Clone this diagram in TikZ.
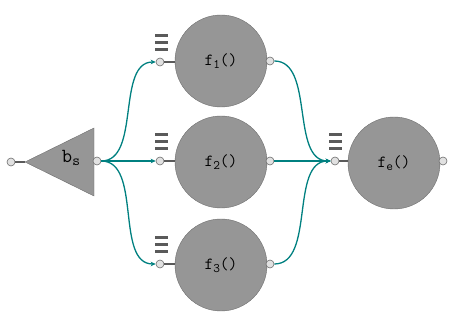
\documentclass[tikz,border=0pt]{standalone}
\usetikzlibrary{arrows.meta}
\definecolor{fillg}{RGB}{150,150,150}
\definecolor{edgeg}{RGB}{110,110,110}
\definecolor{portg}{RGB}{225,225,225}
\definecolor{teal2}{RGB}{0,128,128}
\definecolor{barg}{RGB}{90,90,90}
\tikzset{
  x=1pt, y=-1pt,
  lbl/.style={font=\ttfamily\fontsize{17}{19}\selectfont},
  func/.style={circle, draw=edgeg, fill=fillg, minimum size=92pt, inner sep=0pt, lbl},
  port/.style={circle, draw=edgeg, fill=portg, minimum size=8pt, inner sep=0pt, line width=0.6pt},
  stub/.style={draw=barg, line width=1.1pt},
  flow/.style={draw=teal2, line width=1.3pt, -{Stealth[length=5pt,width=4.5pt]}},
  bar/.style={fill=barg},
}
\newcommand{\bars}[2]{%
  \fill[bar] (#1-6.5,#2-28) rectangle (#1+6.5,#2-25);
  \fill[bar] (#1-6.5,#2-21) rectangle (#1+6.5,#2-18);
  \fill[bar] (#1-6.5,#2-14) rectangle (#1+6.5,#2-11);
}
\newcommand{\mysub}[1]{\raisebox{-0.35ex}{\fontsize{13}{14}\selectfont #1}}
\begin{document}
\begin{tikzpicture}
\useasboundingbox (0,0) rectangle (463,336);
% triangle
\fill[fillg, draw=edgeg] (25,162) -- (94,128) -- (94,196) -- cycle;
\node[font=\ttfamily\fontsize{20}{22}\selectfont, inner sep=0pt] (bs) at (71,158) {b\raisebox{-0.35ex}{\fontsize{15}{16}\selectfont s}};
\node[port] (bsin) at (11,162) {};
\node[port] (bsout) at (97,161) {};
\draw[stub] (bsin.east) -- (25,162);
% functions
\node[func] (f1) at (221,61) {f\mysub{1}()};
\node[func] (f2) at (221,162) {f\mysub{2}()};
\node[func] (f3) at (221,265) {f\mysub{3}()};
\node[func] (fe) at (394,163) {f\mysub{e}()};
% ports
\node[port] (f1in) at (160,62) {};
\node[port] (f2in) at (160,161) {};
\node[port] (f3in) at (160,264) {};
\node[port] (fein) at (335,161) {};
\node[port] (f1out) at (270,61) {};
\node[port] (f2out) at (270,161) {};
\node[port] (f3out) at (270,264) {};
\node[port] (feout) at (443,161) {};
\draw[stub] (f1in.east) -- (175,62);
\draw[stub] (f2in.east) -- (175,161);
\draw[stub] (f3in.east) -- (175,264);
\draw[stub] (fein.east) -- (348,161);
% bars
\bars{161}{62}
\bars{161}{161}
\bars{161}{264}
\bars{335}{161}
% flows
\draw[flow] (bsout.east) to[out=0,in=180,looseness=0.9] (f1in.west);
\draw[flow] (bsout.east) -- (f2in.west);
\draw[flow] (bsout.east) to[out=0,in=180,looseness=0.9] (f3in.west);
\draw[flow] (f1out.east) to[out=0,in=180,looseness=0.9] (fein.west);
\draw[flow] (f2out.east) -- (fein.west);
\draw[flow] (f3out.east) to[out=0,in=180,looseness=0.9] (fein.west);
\end{tikzpicture}
\end{document}
